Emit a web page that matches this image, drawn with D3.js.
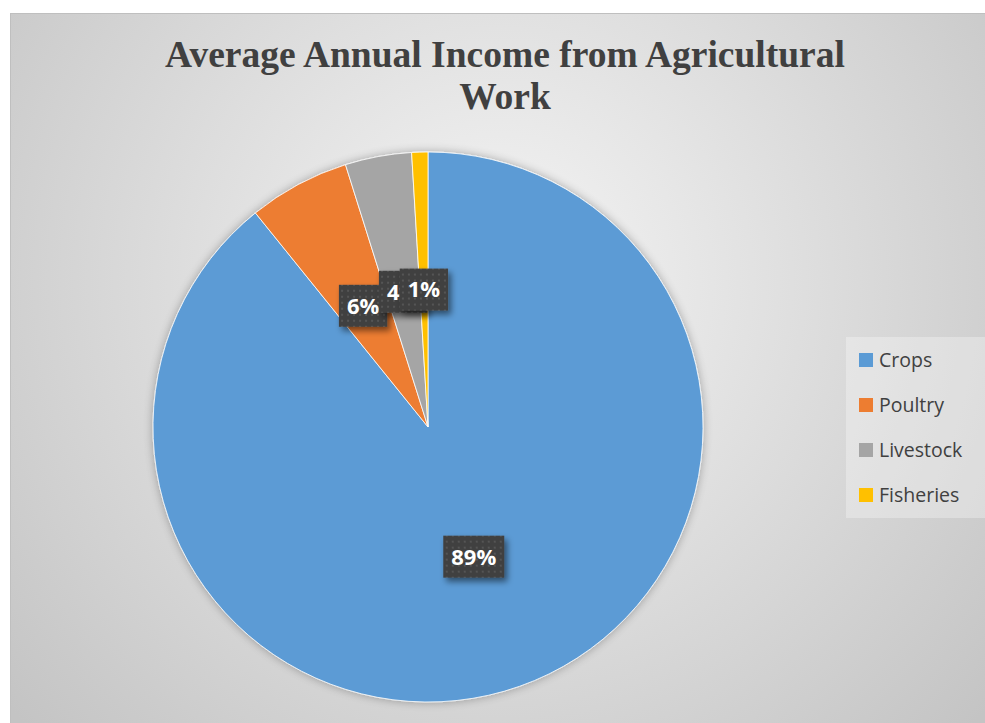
<!DOCTYPE html>
<html>
<head>
<meta charset="utf-8">
<script src="https://cdn.jsdelivr.net/npm/d3@7"></script>
<style>
  body { margin: 0; background: #ffffff; }
  svg { display: block; }
</style>
</head>
<body>
<div id="chart"></div>
<script>
// Pie chart: Average Annual Income from Agricultural Work

// data (share of income, percent)
const categories = ["Crops", "Poultry", "Livestock", "Fisheries"];
const shares = [89.2, 5.95, 3.9, 0.95];
const labelTexts = ["89%", "6%", "4%", "1%"];
const colors = ["#5b9bd5", "#ed7d31", "#a5a5a5", "#ffc000"];
const TITLE_LINES = ["Average Annual Income from Agricultural", "Work"];

const W = 985, H = 723;
const cx = 428, cy = 427, R = 275;

const svg = d3.select("#chart")
  .append("svg")
  .attr("width", W)
  .attr("height", H);

const defs = svg.append("defs");

// background gradient of the chart area
const grad = defs.append("radialGradient")
  .attr("id", "bg")
  .attr("gradientUnits", "userSpaceOnUse")
  .attr("cx", 500).attr("cy", 280).attr("r", 650);
grad.append("stop").attr("offset", "0%").attr("stop-color", "#f5f5f5");
grad.append("stop").attr("offset", "100%").attr("stop-color", "#c4c4c4");

// dotted fill used by the data label boxes
const pat = defs.append("pattern")
  .attr("id", "dots")
  .attr("patternUnits", "userSpaceOnUse")
  .attr("width", 6).attr("height", 6);
pat.append("rect").attr("width", 6).attr("height", 6).attr("fill", "#404040");
pat.append("rect").attr("x", 2).attr("y", 2).attr("width", 2).attr("height", 2).attr("fill", "#555555");

// soft shadows
const pieShadow = defs.append("filter").attr("id", "pieShadow")
  .attr("x", "-10%").attr("y", "-10%").attr("width", "120%").attr("height", "120%");
pieShadow.append("feGaussianBlur").attr("in", "SourceAlpha").attr("stdDeviation", 5).attr("result", "b");
pieShadow.append("feComponentTransfer").attr("in", "b").attr("result", "b2")
  .append("feFuncA").attr("type", "linear").attr("slope", 0.3);
const m1 = pieShadow.append("feMerge");
m1.append("feMergeNode").attr("in", "b2");
m1.append("feMergeNode").attr("in", "SourceGraphic");

const boxShadow = defs.append("filter").attr("id", "boxShadow")
  .attr("x", "-30%").attr("y", "-30%").attr("width", "170%").attr("height", "170%");
boxShadow.append("feGaussianBlur").attr("in", "SourceAlpha").attr("stdDeviation", 3).attr("result", "b");
boxShadow.append("feOffset").attr("in", "b").attr("dx", 3).attr("dy", 4).attr("result", "o");
boxShadow.append("feComponentTransfer").attr("in", "o").attr("result", "o2")
  .append("feFuncA").attr("type", "linear").attr("slope", 0.5);
const m2 = boxShadow.append("feMerge");
m2.append("feMergeNode").attr("in", "o2");
m2.append("feMergeNode").attr("in", "SourceGraphic");

// chart area
svg.append("rect")
  .attr("x", 10.5).attr("y", 13.5)
  .attr("width", W).attr("height", H)
  .attr("fill", "url(#bg)")
  .attr("stroke", "#bfbfbf");

// title
svg.append("text")
  .attr("text-anchor", "middle")
  .attr("font-family", "'Liberation Serif', 'Times New Roman', serif")
  .attr("font-weight", "bold")
  .attr("font-size", 37.5)
  .attr("fill", "#404040")
  .selectAll("tspan")
  .data(TITLE_LINES)
  .join("tspan")
  .attr("x", 505)
  .attr("y", (d, i) => 67 + i * 42)
  .text(d => d);

// pie
const pie = d3.pie().sort(null).value(d => d);
const arcs = pie(shares);
const arc = d3.arc().innerRadius(0).outerRadius(R);

const g = svg.append("g").attr("transform", `translate(${cx},${cy})`);

g.append("g")
  .attr("filter", "url(#pieShadow)")
  .selectAll("path")
  .data(arcs)
  .join("path")
  .attr("d", arc)
  .attr("fill", (d, i) => colors[i])
  .attr("stroke", "#ffffff")
  .attr("stroke-width", 0.8);

// data labels (dark boxes at the slice centroids; later ones cover earlier ones)
const labels = g.append("g")
  .selectAll("g")
  .data(arcs)
  .join("g")
  .attr("transform", d => {
    const [x, y] = arc.centroid(d);
    return `translate(${x},${y})`;
  });

labels.each(function(d, i) {
  const lg = d3.select(this);
  const rect = lg.append("rect").attr("fill", "url(#dots)").attr("filter", "url(#boxShadow)");
  const t = lg.append("text")
    .attr("text-anchor", "middle")
    .attr("dy", "0.36em")
    .attr("font-family", "'Open Sans', sans-serif")
    .attr("font-weight", "bold")
    .attr("font-size", 22)
    .attr("fill", "#ffffff")
    .text(labelTexts[i]);
  const w = t.node().getComputedTextLength() + 16;
  const h = 42;
  rect.attr("x", -w / 2).attr("y", -h / 2).attr("width", w).attr("height", h);
});

// legend
const legend = svg.append("g").attr("transform", "translate(846,337)");
legend.append("rect")
  .attr("width", 145).attr("height", 181)
  .attr("fill", "#ffffff").attr("fill-opacity", 0.3);

const items = legend.selectAll("g.item")
  .data(categories)
  .join("g")
  .attr("class", "item")
  .attr("transform", (d, i) => `translate(13,${16 + i * 45})`);

items.append("rect")
  .attr("width", 14).attr("height", 14)
  .attr("fill", (d, i) => colors[i]);

items.append("text")
  .attr("x", 20).attr("y", 7)
  .attr("dy", "0.35em")
  .attr("font-family", "'Open Sans', sans-serif")
  .attr("font-size", 19.5)
  .attr("fill", "#404040")
  .text(d => d);
</script>
</body>
</html>
